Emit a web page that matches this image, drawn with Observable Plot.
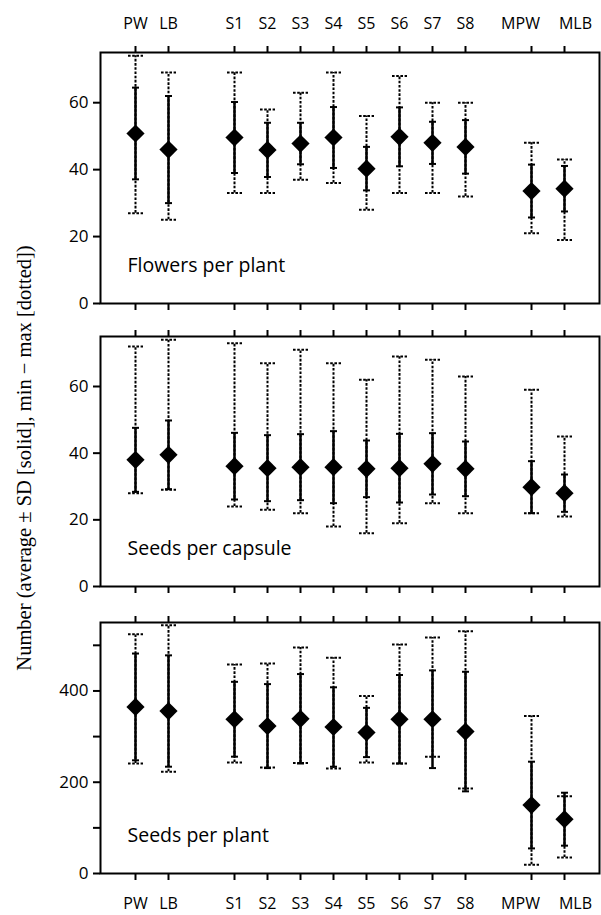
<!DOCTYPE html>
<html>
<head>
<meta charset="utf-8">
<script src="https://cdn.jsdelivr.net/npm/d3@7"></script>
<script src="https://cdn.jsdelivr.net/npm/@observablehq/plot@0.6"></script>
<style>
  body { margin: 0; background: #fff; }
  #wrap { position: relative; width: 601px; height: 915px; }
  #wrap svg { display: block; }
  #ytitle {
    position: absolute; left: 24px; top: 458px;
    transform: translate(-50%, -50%) rotate(-90deg);
    white-space: nowrap; font-family: "Liberation Serif", serif; font-size: 20.5px; color: #000;
  }
</style>
</head>
<body>
<div id="wrap">
  <div id="ytitle">Number (average ± SD [solid], min − max [dotted])</div>
</div>
<script>
// Categories (in display order) and x slots (spacers create the group gaps)
const categories = ["PW","LB","S1","S2","S3","S4","S5","S6","S7","S8","MPW","MLB"];
const slots = ["_a","PW","LB","_b","S1","S2","S3","S4","S5","S6","S7","S8","_c","MPW","MLB","_d"];

// Panel titles
const panelTitles = ["Flowers per plant", "Seeds per capsule", "Seeds per plant"];

// Flowers per plant
const flowersMean = [50.8, 46.0, 49.6, 45.9, 47.8, 49.6, 40.3, 49.8, 48.0, 46.8, 33.6, 34.3];
const flowersSD   = [13.7, 16.0, 10.6, 8.1, 6.2, 9.1, 6.5, 8.8, 6.3, 8.0, 7.9, 6.8];
const flowersMin  = [27, 25, 33, 33, 37, 36, 28, 33, 33, 32, 21, 19];
const flowersMax  = [74, 69, 69, 58, 63, 69, 56, 68, 60, 60, 48, 43];

// Seeds per capsule
const capsuleMean = [38.0, 39.5, 36.1, 35.5, 35.8, 35.8, 35.3, 35.5, 36.8, 35.3, 29.8, 28.0];
const capsuleSD   = [9.6, 10.3, 10.0, 9.9, 9.9, 10.8, 8.5, 10.3, 9.2, 8.2, 7.8, 5.6];
const capsuleMin  = [28, 29, 24, 23, 22, 18, 16, 19, 25, 22, 22, 21];
const capsuleMax  = [72, 74, 73, 67, 71, 67, 62, 69, 68, 63, 59, 45];

// Seeds per plant
const plantMean = [365, 356, 338, 323, 339, 321, 309, 338, 338, 311, 150, 119];
const plantSD   = [117, 122, 82, 92, 98, 87, 54, 97, 107, 131, 95, 58];
const plantMin  = [241, 223, 243, 232, 242, 230, 243, 241, 256, 186, 19, 35];
const plantMax  = [524, 544, 458, 460, 495, 473, 389, 502, 517, 531, 345, 169];

// Y tick values
const yTicksSmall = [0, 20, 40, 60];
const yTicksLarge = [0, 100, 200, 300, 400, 500];
const yLabelsLarge = [0, 200, 400];

function rows(mean, sd, mn, mx) {
  return categories.map((c, i) => ({cat: c, mean: mean[i], lo: mean[i] - sd[i], hi: mean[i] + sd[i], min: mn[i], max: mx[i]}));
}

// horizontal cap symbol (half-width = r)
const hline = {
  draw(ctx, size) {
    const r = Math.sqrt(size / Math.PI);
    ctx.moveTo(-r, 0);
    ctx.lineTo(r, 0);
  }
};

const dash = "2.6,1.6";
// the two rightmost labels are nudged apart in the original, as are these
const labelGroups = [
  {cats: categories.filter(c => c !== "MPW" && c !== "MLB"), dx: 0},
  {cats: ["MPW"], dx: -11},
  {cats: ["MLB"], dx: 11}
];

function catLabels(anchor) {
  return labelGroups.map(g => Plot.text(g.cats, {
    x: d => d, frameAnchor: anchor, dx: g.dx, dy: anchor === "top" ? -29 : 30.5,
    lineAnchor: "middle", textAnchor: "middle", fontSize: 16, fill: "#000"
  }));
}

function panel({data, title, yDomain, yTicks, yFormat, height, marginTop, marginBottom, topLabels, bottomLabels}) {
  return Plot.plot({
    width: 601,
    height,
    marginLeft: 100,
    marginRight: 2,
    marginTop,
    marginBottom,
    style: {fontFamily: "'Open Sans', sans-serif", fontSize: "16px", color: "#000", background: "#fff", overflow: "visible"},
    x: {type: "point", domain: slots, padding: 0},
    y: {domain: yDomain},
    marks: [
      // min-max dotted range
      Plot.ruleX(data, {x: "cat", y1: "min", y2: "max", stroke: "#000", strokeWidth: 2, strokeDasharray: dash}),
      Plot.dot(data, {x: "cat", y: "min", symbol: hline, r: 7.5, fill: "none", stroke: "#000", strokeWidth: 2, strokeDasharray: dash}),
      Plot.dot(data, {x: "cat", y: "max", symbol: hline, r: 7.5, fill: "none", stroke: "#000", strokeWidth: 2, strokeDasharray: dash}),
      // mean ± SD solid
      Plot.ruleX(data, {x: "cat", y1: "lo", y2: "hi", stroke: "#000", strokeWidth: 2.5}),
      Plot.dot(data, {x: "cat", y: "lo", symbol: hline, r: 3.5, fill: "none", stroke: "#000", strokeWidth: 2}),
      Plot.dot(data, {x: "cat", y: "hi", symbol: hline, r: 3.5, fill: "none", stroke: "#000", strokeWidth: 2}),
      // mean diamond
      Plot.dot(data, {x: "cat", y: "mean", symbol: "diamond2", r: 8.2, fill: "#000", stroke: "none"}),
      Plot.frame({stroke: "#000", strokeWidth: 2}),
      Plot.axisY({ticks: yTicks, tickFormat: yFormat, tickSize: 7, tickPadding: 5, strokeWidth: 2, label: null, fontSize: 17}),
      Plot.axisX({anchor: "top", ticks: categories, tickSize: 7, strokeWidth: 2, label: null, tickFormat: () => ""}),
      Plot.axisX({anchor: "bottom", ticks: categories, tickSize: 7, strokeWidth: 2, label: null, tickFormat: () => ""}),
      topLabels ? catLabels("top") : null,
      bottomLabels ? catLabels("bottom") : null,
      Plot.text([title], {frameAnchor: "bottom-left", dx: 27, dy: -32, textAnchor: "start", fontSize: 19.5, fill: "#000"})
    ]
  });
}

const wrap = document.getElementById("wrap");
wrap.appendChild(panel({
  data: rows(flowersMean, flowersSD, flowersMin, flowersMax), title: panelTitles[0],
  yDomain: [0, 75], yTicks: yTicksSmall, yFormat: d => d,
  height: 320, marginTop: 52, marginBottom: 17, topLabels: true, bottomLabels: false
}));
wrap.appendChild(panel({
  data: rows(capsuleMean, capsuleSD, capsuleMin, capsuleMax), title: panelTitles[1],
  yDomain: [0, 75], yTicks: yTicksSmall, yFormat: d => d,
  height: 285, marginTop: 16, marginBottom: 19, topLabels: false, bottomLabels: false
}));
wrap.appendChild(panel({
  data: rows(plantMean, plantSD, plantMin, plantMax), title: panelTitles[2],
  yDomain: [0, 550], yTicks: yTicksLarge, yFormat: d => (yLabelsLarge.includes(d) ? d : ""),
  height: 310, marginTop: 17, marginBottom: 42, topLabels: false, bottomLabels: true
}));
</script>
</body>
</html>
